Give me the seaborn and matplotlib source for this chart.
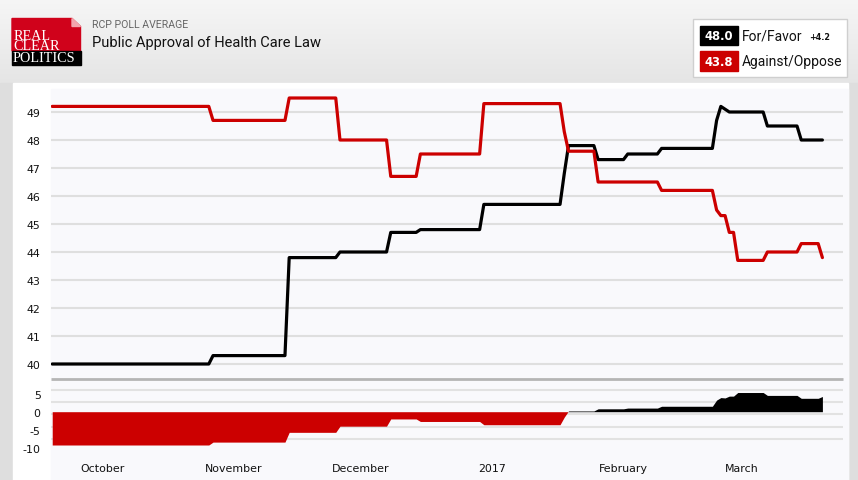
import matplotlib
matplotlib.use("Agg")
import matplotlib.pyplot as plt
import matplotlib.dates as mdates
from matplotlib.patches import Rectangle, Polygon
import numpy as np
import pandas as pd
import seaborn as sns

# ---------------- data ----------------
dates = ["2016-09-19", "2016-10-26", "2016-10-27", "2016-11-13", "2016-11-14",
         "2016-11-25", "2016-11-26", "2016-12-07", "2016-12-08", "2016-12-14",
         "2016-12-15", "2016-12-29", "2016-12-30", "2017-01-17", "2017-01-18",
         "2017-01-19", "2017-01-25", "2017-01-26", "2017-02-01", "2017-02-02",
         "2017-02-09", "2017-02-10", "2017-02-22", "2017-02-23", "2017-02-24",
         "2017-02-25", "2017-02-26", "2017-02-27", "2017-02-28", "2017-03-06",
         "2017-03-07", "2017-03-14", "2017-03-15", "2017-03-19", "2017-03-20"]
favor = [40.0, 40.0, 40.3, 40.3, 43.8, 43.8, 44.0, 44.0, 44.7, 44.7,
         44.8, 44.8, 45.7, 45.7, 46.8, 47.8, 47.8, 47.3, 47.3, 47.5,
         47.5, 47.7, 47.7, 48.7, 49.2, 49.1, 49.0, 49.0, 49.0, 49.0,
         48.5, 48.5, 48.0, 48.0, 48.0]
against = [49.2, 49.2, 48.7, 48.7, 49.5, 49.5, 48.0, 48.0, 46.7, 46.7,
           47.5, 47.5, 49.3, 49.3, 48.3, 47.6, 47.6, 46.5, 46.5, 46.5,
           46.5, 46.2, 46.2, 45.5, 45.3, 45.3, 44.7, 44.7, 43.7, 43.7,
           44.0, 44.0, 44.3, 44.3, 43.8]
series_names = ["For/Favor", "Against/Oppose"]
latest_values = ["48.0", "43.8"]
lead_text = "+4.2"
month_ticks = ["2016-10-01", "2016-11-01", "2016-12-01", "2017-01-01",
               "2017-02-01", "2017-03-01"]
month_labels = ["October", "November", "December", "2017", "February", "March"]
main_yticks = list(range(40, 50))
spread_yticks = [5, 0, -5, -10]

# ---------------- styles ----------------
RED = "#cc0000"
BLACK = "#000000"
W, H = 858, 481

sns.set_style("white")
plt.rcParams["font.family"] = ["DejaVu Sans"]

x = pd.to_datetime(dates)
df = pd.DataFrame({
    "date": list(x) * 2,
    "value": favor + against,
    "series": [series_names[0]] * len(x) + [series_names[1]] * len(x),
})
spread = np.array(favor) - np.array(against)
xnum = mdates.date2num(x)

fig = plt.figure(figsize=(W / 100, H / 100), dpi=100)

# background (pixel coordinates)
bg = fig.add_axes([0, 0, 1, 1], zorder=-5)
bg.set_xlim(0, W)
bg.set_ylim(H, 0)
bg.axis("off")
grad = np.linspace(0, 1, 200)[:, None]
cmap = matplotlib.colors.LinearSegmentedColormap.from_list(
    "g", ["#f6f6f6", "#e4e4e4"])
bg.imshow(grad, extent=(0, W, 90, 0), cmap=cmap, aspect="auto", zorder=0)
bg.add_patch(Rectangle((0, 84), W, H - 84, color="#dedede", zorder=0.5))
bg.add_patch(Rectangle((13, 84), 835, H - 84, color="#ffffff", zorder=1))
bg.add_patch(Rectangle((51, 90), 797, H - 90, color="#f9f9fc", zorder=1.5))
bg.plot([51, 843], [380, 380], color="#b5b5b5", lw=2, zorder=2,
        solid_capstyle="butt")

# logo
bg.add_patch(Polygon([(12, 19.5), (72, 19.5), (80.5, 27.5), (80.5, 52), (12, 52)],
                     closed=True, color="#d0021b", zorder=3))
bg.add_patch(Polygon([(72, 19.5), (80.5, 27.5), (72, 27.5)], closed=True,
                     color="#f3a5ad", zorder=3.1))
bg.add_patch(Rectangle((12, 52), 68.5, 13.5, color="#000000", zorder=3))
logo_font = dict(family="Liberation Serif", color="white", fontsize=10.2,
                 zorder=4, ha="left")
bg.text(13.5, 41.5, "REAL\nCLEAR", va="center", linespacing=0.78, **logo_font)
bg.text(12.5, 58.5, "POLITICS", va="center", **logo_font)

# titles
bg.text(92, 25, "RCP POLL AVERAGE", family="Roboto", fontsize=7.6,
        color="#666666", va="center", ha="left", zorder=4)
bg.text(92, 42.5, "Public Approval of Health Care Law", family="Roboto",
        fontsize=10.5, color="#111111", va="center", ha="left", zorder=4)

# legend box
bg.add_patch(Rectangle((693, 20), 154, 58, facecolor="white",
                       edgecolor="#cfcfcf", lw=1, zorder=3))
for i, (name, val, col) in enumerate(zip(series_names, latest_values,
                                         [BLACK, RED])):
    yc = 36.5 + i * 25.5
    bg.add_patch(Rectangle((700, yc - 9.8), 37.5, 19.6, color=col, zorder=4))
    bg.text(718.7, yc + 0.3, val, color="white", fontsize=8.4,
            fontweight="bold", ha="center", va="center", zorder=5)
    bg.text(741.5, yc, name, family="Roboto", fontsize=10, color="#111111",
            ha="left", va="center", zorder=5)
bg.text(809, 38, lead_text, fontsize=5.8, fontweight="bold", color="#111111",
        ha="left", va="center", zorder=5)

# ---------------- main chart ----------------
left = 51 / W
width = (843 - 51) / W
ax = fig.add_axes([left, (H - 380) / H, width, (380 - 90) / H])
ax.set_facecolor("none")
sns.lineplot(data=df, x="date", y="value", hue="series",
             palette={series_names[0]: BLACK, series_names[1]: RED},
             hue_order=series_names, linewidth=2.3, legend=False, ax=ax,
             zorder=3)
ax.set_ylim(40 - 15 / 28, 40 + 275 / 28)
oct1 = mdates.date2num(pd.Timestamp(month_ticks[0]))
px_day = 639 / 151
xlim = (oct1 - (103 - 51) / px_day, oct1 + (843 - 103) / px_day)
ax.set_xlim(*xlim)
ax.set_yticks(main_yticks)
ax.set_yticklabels([str(v) for v in main_yticks])
for v in main_yticks:
    ax.axhline(v, color="#dfdfdf", lw=1.5, zorder=1)
ax.set_xticks([])
ax.set_xlabel("")
ax.set_ylabel("")
for s in ax.spines.values():
    s.set_visible(False)
ax.tick_params(axis="y", length=0, pad=7.5, labelsize=7.9, labelcolor="#111111")

# ---------------- spread chart ----------------
ax2 = fig.add_axes([left, (H - 455) / H, width, 75 / H])
ax2.set_facecolor("none")
ax2.fill_between(xnum, spread, 0, where=spread <= 0, interpolate=True,
                 color=RED, lw=0, zorder=3)
ax2.fill_between(xnum, spread, 0, where=spread >= 0, interpolate=True,
                 color=BLACK, lw=0, zorder=3)
ppu = 3.62
ax2.set_ylim(-(455 - 412.7) / ppu, (412.7 - 380) / ppu)
ax2.set_xlim(*xlim)
for yy in [391, 403, 415, 427.7, 440]:
    ax2.axhline((412.7 - yy) / ppu, color="#e2e2e2", lw=1.5, zorder=1)
ax2.set_yticks(spread_yticks)
ax2.set_yticklabels([str(v) for v in spread_yticks])
ax2.set_xticks(mdates.date2num(pd.to_datetime(month_ticks)))
ax2.set_xticklabels(month_labels)
for s in ax2.spines.values():
    s.set_visible(False)
ax2.tick_params(axis="y", length=0, pad=7.5, labelsize=7.9, labelcolor="#111111")
ax2.tick_params(axis="x", length=0, pad=6.5, labelsize=7.9, labelcolor="#111111")

fig.savefig("out.png", dpi=100)
